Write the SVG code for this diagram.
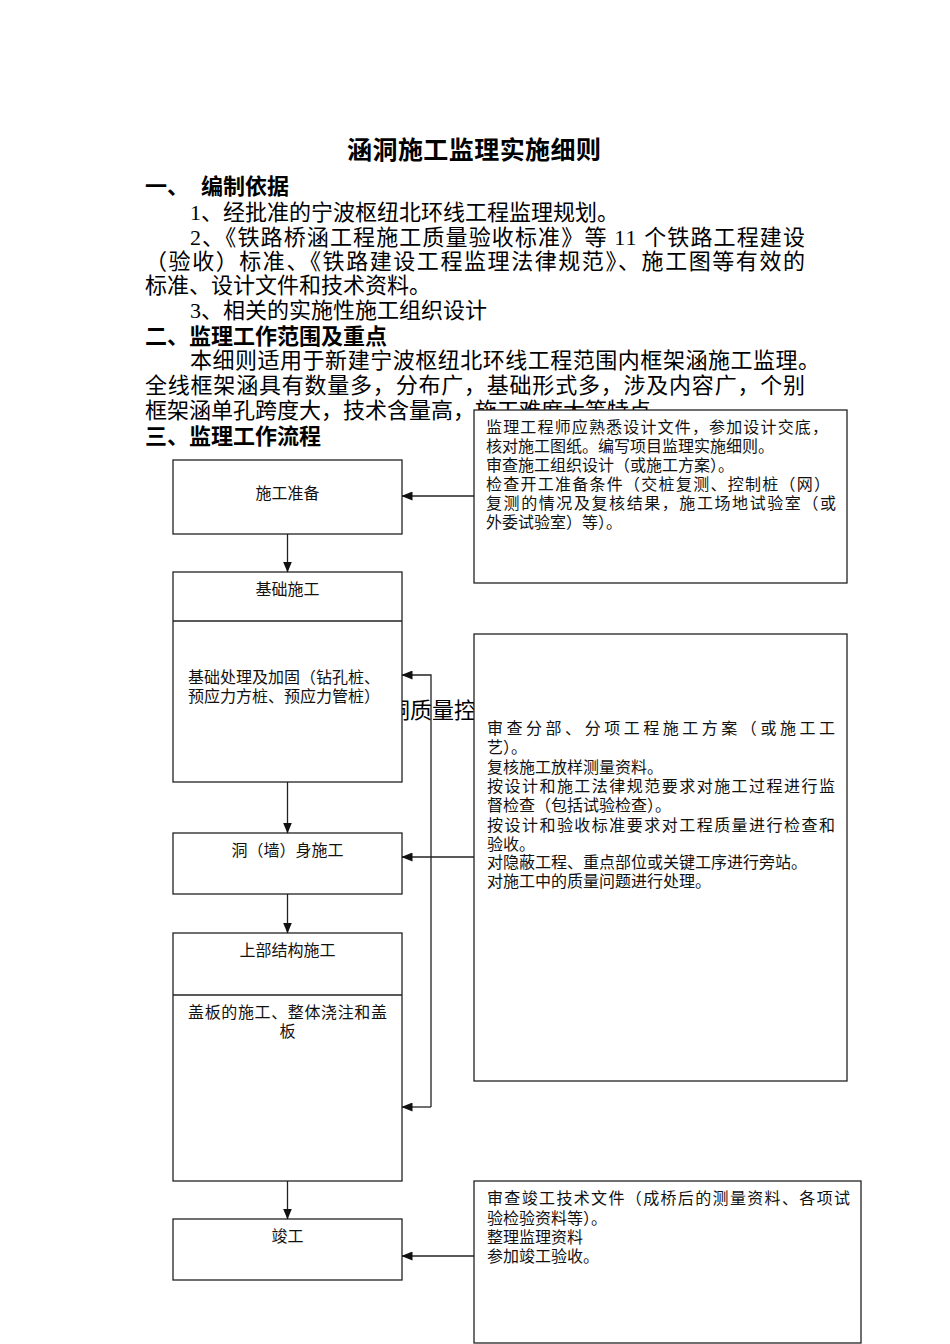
<svg xmlns="http://www.w3.org/2000/svg" width="950" height="1344" viewBox="0 0 950 1344">
<style>
.bg{fill:#ffffff}
.t{font-family:"Liberation Serif","Noto Sans CJK SC",serif;font-size:22px;fill:#000}
.h{font-family:"Noto Sans CJK SC",sans-serif;font-size:22px;font-weight:bold;fill:#000}
.ttl{font-family:"Noto Sans CJK SC",sans-serif;font-size:25px;font-weight:bold;fill:#000}
.n{font-family:"Noto Sans CJK SC",sans-serif;font-size:16px;fill:#111}
.b{font-family:"Noto Sans CJK SC",sans-serif;font-size:16px;fill:#111}
.box{fill:#ffffff;stroke:#222;stroke-width:1.3}
.ln{fill:none;stroke:#222;stroke-width:1.3}
.c{stroke:#222;stroke-width:1.3;fill:none}
</style>
<defs>
<marker id="ah" markerWidth="11" markerHeight="9" refX="10.5" refY="4.5" orient="auto" markerUnits="userSpaceOnUse">
<path d="M0,0 L11,4.5 L0,9 Z" fill="#111"/>
</marker>
</defs>
<rect class="bg" x="0" y="0" width="950" height="1344"/>

<g id="document-text">
<text class="ttl" x="347" y="159" textLength="254" lengthAdjust="spacing">涵洞施工监理实施细则</text>
<text class="t"><tspan class="h" x="145" y="194">一、</tspan><tspan class="h" x="201" y="194">编制依据</tspan><tspan x="190" y="220">1、经批准的宁波枢纽北环线工程监理规划。</tspan><tspan x="190" y="245" textLength="615" lengthAdjust="spacing">2、《铁路桥涵工程施工质量验收标准》等 11 个铁路工程建设</tspan><tspan x="145" y="269" textLength="660" lengthAdjust="spacing">（验收）标准、《铁路建设工程监理法律规范》、施工图等有效的</tspan><tspan x="145" y="293">标准、设计文件和技术资料。</tspan><tspan x="190" y="318">3、相关的实施性施工组织设计</tspan><tspan class="h" x="145" y="344">二、监理工作范围及重点</tspan><tspan x="190" y="368" textLength="630" lengthAdjust="spacing">本细则适用于新建宁波枢纽北环线工程范围内框架涵施工监理。</tspan><tspan x="145" y="393" textLength="660" lengthAdjust="spacing">全线框架涵具有数量多，分布广，基础形式多，涉及内容广，个别</tspan><tspan x="145" y="418">框架涵单孔跨度大，技术含量高，施工难度大等特点</tspan><tspan class="h" x="145" y="444">三、监理工作流程</tspan></text>
<text class="t" x="388" y="718">洞质量控</text>
</g>

<g id="node-prep">
<rect class="box" x="173" y="460" width="229" height="74"/>
<text class="n" x="287.5" y="499" text-anchor="middle">施工准备</text>
</g>
<g id="node-foundation">
<rect class="box" x="173" y="572" width="229" height="210"/>
<line class="ln" x1="173" y1="621" x2="402" y2="621"/>
<text class="n" x="287.5" y="595" text-anchor="middle">基础施工</text>
<text class="n"><tspan x="188" y="683">基础处理及加固（钻孔桩、</tspan><tspan x="188" y="702">预应力方桩、预应力管桩）</tspan></text>
</g>
<g id="node-body">
<rect class="box" x="173" y="833" width="229" height="61"/>
<text class="n" x="287.5" y="856" text-anchor="middle">洞（墙）身施工</text>
</g>
<g id="node-super">
<rect class="box" x="173" y="933" width="229" height="248"/>
<line class="ln" x1="173" y1="995" x2="402" y2="995"/>
<text class="n" x="287.5" y="956" text-anchor="middle">上部结构施工</text>
<text class="n" text-anchor="middle"><tspan x="287.5" y="1018" textLength="199" lengthAdjust="spacing">盖板的施工、整体浇注和盖</tspan><tspan x="287.5" y="1037">板</tspan></text>
</g>
<g id="node-complete">
<rect class="box" x="173" y="1219" width="229" height="61"/>
<text class="n" x="287.5" y="1242" text-anchor="middle">竣工</text>
</g>

<g id="note-prep">
<rect class="box" x="474" y="410" width="373" height="173"/>
<text class="b"><tspan x="486" y="433" textLength="342" lengthAdjust="spacing">监理工程师应熟悉设计文件，参加设计交底，</tspan><tspan x="486" y="452">核对施工图纸。编写项目监理实施细则。</tspan><tspan x="486" y="471">审查施工组织设计（或施工方案）。</tspan><tspan x="486" y="490" textLength="344" lengthAdjust="spacing">检查开工准备条件（交桩复测、控制桩（网）</tspan><tspan x="486" y="509" textLength="350" lengthAdjust="spacing">复测的情况及复核结果，施工场地试验室（或</tspan><tspan x="486" y="528">外委试验室）等）。</tspan></text>
</g>
<g id="note-construction">
<rect class="box" x="474" y="634" width="373" height="447"/>
<text class="b"><tspan x="487" y="734" textLength="348" lengthAdjust="spacing">审查分部、分项工程施工方案（或施工工</tspan><tspan x="487" y="753">艺）。</tspan><tspan x="487" y="773">复核施工放样测量资料。</tspan><tspan x="487" y="792" textLength="348" lengthAdjust="spacing">按设计和施工法律规范要求对施工过程进行监</tspan><tspan x="487" y="811">督检查（包括试验检查）。</tspan><tspan x="487" y="831" textLength="348" lengthAdjust="spacing">按设计和验收标准要求对工程质量进行检查和</tspan><tspan x="487" y="850">验收。</tspan><tspan x="487" y="868">对隐蔽工程、重点部位或关键工序进行旁站。</tspan><tspan x="487" y="887">对施工中的质量问题进行处理。</tspan></text>
</g>
<g id="note-complete">
<rect class="box" x="474" y="1181" width="387" height="162"/>
<text class="b"><tspan x="487" y="1204" textLength="363" lengthAdjust="spacing">审查竣工技术文件（成桥后的测量资料、各项试</tspan><tspan x="487" y="1224">验检验资料等）。</tspan><tspan x="487" y="1243">整理监理资料</tspan><tspan x="487" y="1262">参加竣工验收。</tspan></text>
</g>

<g id="connectors">
<line class="c" x1="287.5" y1="534" x2="287.5" y2="572" marker-end="url(#ah)"/>
<line class="c" x1="287.5" y1="782" x2="287.5" y2="833" marker-end="url(#ah)"/>
<line class="c" x1="287.5" y1="894" x2="287.5" y2="933" marker-end="url(#ah)"/>
<line class="c" x1="287.5" y1="1181" x2="287.5" y2="1219" marker-end="url(#ah)"/>
<line class="c" x1="474" y1="496" x2="402" y2="496" marker-end="url(#ah)"/>
<line class="c" x1="474" y1="857" x2="402" y2="857" marker-end="url(#ah)"/>
<line class="c" x1="474" y1="1256" x2="402" y2="1256" marker-end="url(#ah)"/>
<polyline class="c" points="431,1107 431,675 402,675" marker-end="url(#ah)"/>
<line class="c" x1="431" y1="1107" x2="402" y2="1107" marker-end="url(#ah)"/>
</g>
</svg>
